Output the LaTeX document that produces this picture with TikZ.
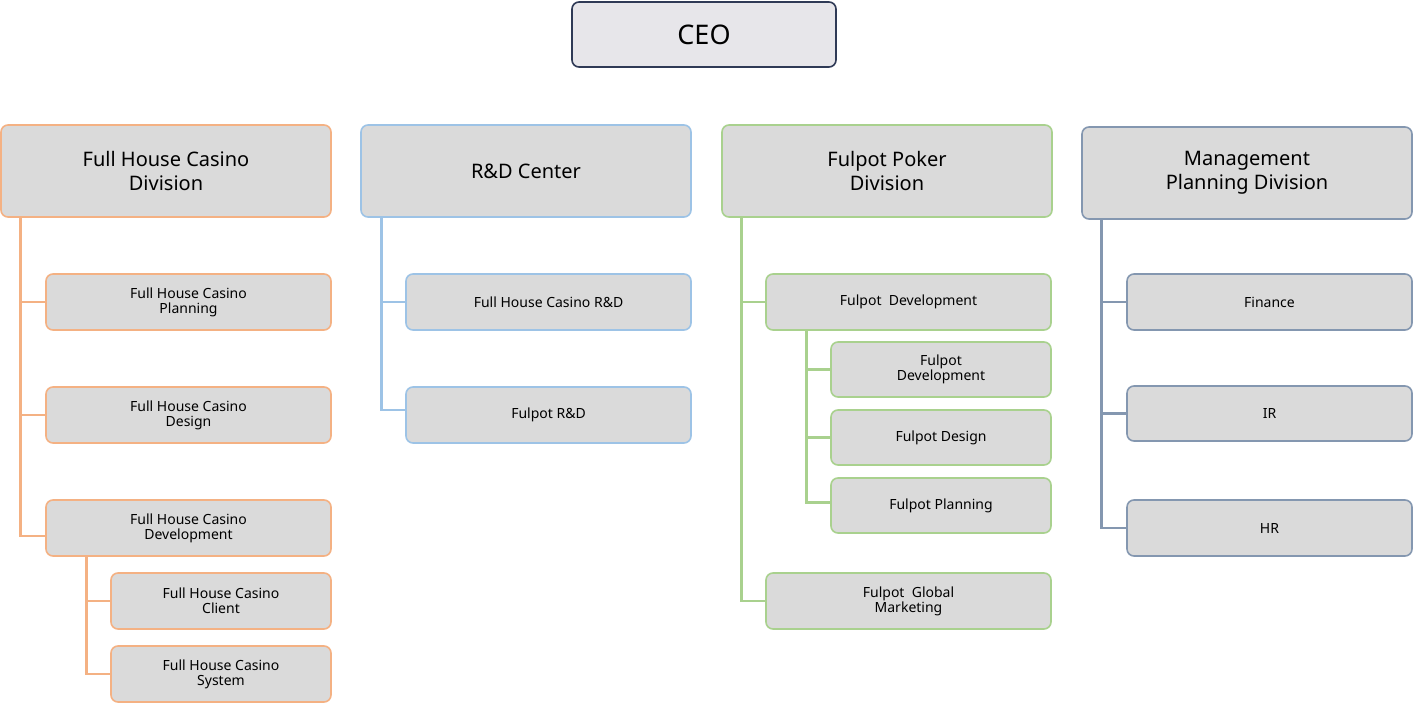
\documentclass[tikz,border=0pt]{standalone}
\usepackage{fontspec}
\setmainfont{Noto Sans}
\begin{document}
\begin{tikzpicture}[x=1pt,y=-1pt,
  box/.style={draw=#1,line width=1.6pt,fill=boxgray,rounded corners=7pt,inner sep=0pt,align=center,font=\bfseries\fontsize{14}{15}\selectfont},
  head/.style={box=#1,font=\bfseries\fontsize{20}{24}\selectfont},
  ln/.style={draw=#1,line width=2.6pt}]
\definecolor{boxgray}{HTML}{DADADA}
\definecolor{ceofill}{HTML}{E7E6EA}
\definecolor{cor}{HTML}{F4B183}
\definecolor{cbl}{HTML}{9DC3E6}
\definecolor{cgr}{HTML}{A9D18E}
\definecolor{csl}{HTML}{8497B0}
\definecolor{cnavy}{HTML}{2F3A56}
\useasboundingbox (0,0) rectangle (1413,712);
\newcommand{\bx}[7]{\node[#1,minimum width={#5-#3},minimum height={#6-#4}] (#2) at ({(#3+#5)/2},{(#4+#6)/2}) {#7};}
\bx{head=cnavy,fill=ceofill,font=\bfseries\fontsize{27}{30}\selectfont}{ceo}{572}{2}{836}{67}{CEO}
% orange
\bx{head=cor}{fhc}{1}{125}{331}{217}{Full House Casino\\Division}
\bx{box=cor}{fp}{46}{274}{331}{330}{Full House Casino\\Planning}
\bx{box=cor}{fd}{46}{387}{331}{443}{Full House Casino\\Design}
\bx{box=cor}{fv}{46}{500}{331}{556}{Full House Casino\\Development}
\bx{box=cor}{fc}{111}{573}{331}{629}{Full House Casino\\Client}
\bx{box=cor}{fs}{111}{646}{331}{702}{Full House Casino\\System}
\draw[ln=cor] ([xshift=20pt]fhc.south west) |- ([yshift=-8pt]fv.west);
\draw[ln=cor] (fp.west) -- ++(-25,0);
\draw[ln=cor] (fd.west) -- ++(-25,0);
\draw[ln=cor] ([xshift=41pt]fv.south west) |- (fs.west);
\draw[ln=cor] (fc.west) -- ++(-24,0);
% blue
\bx{head=cbl}{rd}{361}{125}{691}{217}{R\&D Center}
\bx{box=cbl}{rf}{406}{274}{691}{330}{Full House Casino R\&D}
\bx{box=cbl}{rp}{406}{387}{691}{443}{Fulpot R\&D}
\draw[ln=cbl] ([xshift=21pt]rd.south west) |- ([yshift=5pt]rp.west);
\draw[ln=cbl] (rf.west) -- ++(-24,0);
% green
\bx{head=cgr}{fpd}{722}{125}{1052}{217}{Fulpot Poker\\Division}
\bx{box=cgr}{gdv}{766}{274}{1051}{330}{Fulpot\ \ Development}
\bx{box=cgr}{gd1}{831}{342}{1051}{397}{Fulpot\\Development}
\bx{box=cgr}{gd2}{831}{410}{1051}{465}{Fulpot Design}
\bx{box=cgr}{gd3}{831}{478}{1051}{533}{Fulpot Planning}
\bx{box=cgr}{gm}{766}{573}{1051}{629}{Fulpot\ \ Global\\Marketing}
\draw[ln=cgr] ([xshift=20pt]fpd.south west) |- (gm.west);
\draw[ln=cgr] (gdv.west) -- ++(-24,0);
\draw[ln=cgr] ([xshift=41pt]gdv.south west) |- ([yshift=3pt]gd3.west);
\draw[ln=cgr] (gd1.west) -- ++(-24,0);
\draw[ln=cgr] (gd2.west) -- ++(-24,0);
% slate
\bx{head=csl}{mp}{1082}{127}{1412}{219}{Management\\Planning Division}
\bx{box=csl}{mf}{1127}{274}{1412}{330}{Finance}
\bx{box=csl}{mi}{1127}{386}{1412}{441}{IR}
\bx{box=csl}{mh}{1127}{500}{1412}{556}{HR}
\draw[ln=csl] ([xshift=20pt]mp.south west) |- (mh.west);
\draw[ln=csl] (mf.west) -- ++(-25,0);
\draw[ln=csl] (mi.west) -- ++(-25,0);
\end{tikzpicture}
\end{document}
